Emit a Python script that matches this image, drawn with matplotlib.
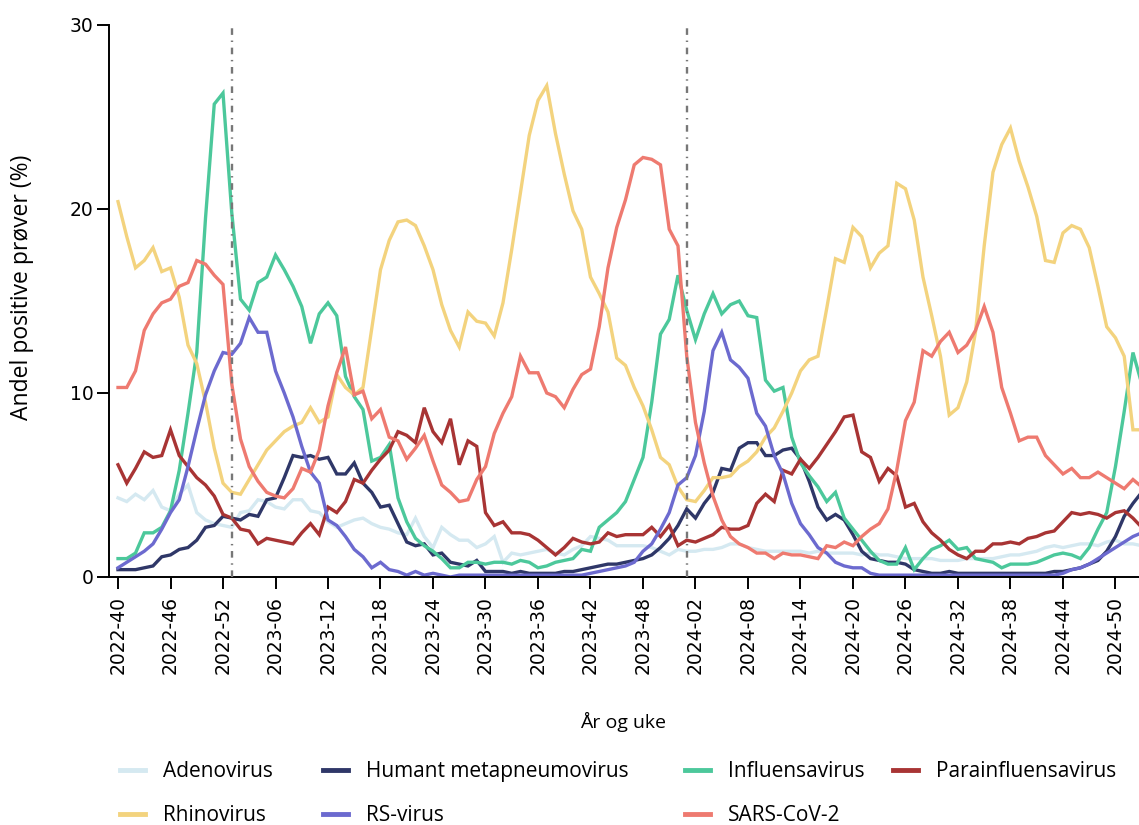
import matplotlib
matplotlib.use('Agg')
import matplotlib.pyplot as plt
import numpy as np

# Uke 2022-40 .. 2025-01
years = [2022] * 13 + [2023] * 52 + [2024] * 52 + [2025]
weeks = list(range(40, 53)) + list(range(1, 53)) + list(range(1, 53)) + [1]
week_labels = [f'{y}-{w:02d}' for y, w in zip(years, weeks)]

adeno = [4.3, 4.1, 4.5, 4.2, 4.7, 3.8, 3.6, 4.5, 5.0, 3.5,
         3.1, 2.9, 2.8, 2.7, 3.5, 3.6, 4.2, 4.1, 3.8, 3.7,
         4.2, 4.2, 3.6, 3.5, 3.0, 2.7, 2.9, 3.1, 3.2, 2.9,
         2.7, 2.6, 2.4, 2.3, 3.2, 2.2, 1.6, 2.7, 2.3, 2.0,
         2.0, 1.6, 1.8, 2.2, 0.8, 1.3, 1.2, 1.3, 1.4, 1.5,
         1.3, 1.2, 1.5, 1.7, 2.2, 2.1, 2.0, 1.7, 1.7, 1.7,
         1.7, 1.6, 1.4, 1.2, 1.5, 1.4, 1.4, 1.5, 1.5, 1.6,
         1.8, 1.8, 1.6, 1.5, 1.4, 1.4, 1.4, 1.4, 1.4, 1.3,
         1.4, 1.3, 1.3, 1.3, 1.3, 1.2, 1.3, 1.2, 1.2, 1.1,
         1.0, 1.0, 1.0, 1.0, 0.9, 0.9, 0.9, 1.0, 1.0, 1.0,
         1.0, 1.1, 1.2, 1.2, 1.3, 1.4, 1.6, 1.7, 1.6, 1.7,
         1.8, 1.8, 1.7, 1.9, 2.0, 1.8, 1.8, 1.7]

hmpv = [0.4, 0.4, 0.4, 0.5, 0.6, 1.1, 1.2, 1.5, 1.6, 2.0,
        2.7, 2.8, 3.3, 3.2, 3.1, 3.4, 3.3, 4.2, 4.3, 5.4,
        6.6, 6.5, 6.6, 6.4, 6.5, 5.6, 5.6, 6.2, 5.1, 4.6,
        3.8, 3.9, 2.9, 1.9, 1.7, 1.8, 1.2, 1.3, 0.8, 0.7,
        0.6, 0.9, 0.3, 0.3, 0.3, 0.2, 0.3, 0.2, 0.2, 0.2,
        0.2, 0.3, 0.3, 0.4, 0.5, 0.6, 0.7, 0.7, 0.8, 0.9,
        1.0, 1.2, 1.6, 2.1, 2.8, 3.7, 3.2, 4.0, 4.6, 5.9,
        5.8, 7.0, 7.3, 7.3, 6.6, 6.6, 6.9, 7.0, 6.4, 5.2,
        3.8, 3.1, 3.4, 3.1, 2.3, 1.4, 1.0, 0.9, 0.8, 0.8,
        0.7, 0.4, 0.3, 0.2, 0.2, 0.3, 0.2, 0.2, 0.2, 0.2,
        0.2, 0.2, 0.2, 0.2, 0.2, 0.2, 0.2, 0.3, 0.3, 0.4,
        0.5, 0.7, 0.9, 1.4, 2.2, 3.3, 4.0, 4.6]

influenza = [1.0, 1.0, 1.3, 2.4, 2.4, 2.7, 3.6, 5.8, 8.9, 12.2,
             19.5, 25.7, 26.3, 19.8, 15.1, 14.5, 16.0, 16.3, 17.5, 16.7,
             15.8, 14.7, 12.7, 14.3, 14.9, 14.2, 10.9, 9.8, 9.1, 6.3,
             6.5, 7.2, 4.3, 3.0, 2.1, 1.7, 1.4, 1.0, 0.5, 0.5,
             0.8, 0.8, 0.7, 0.8, 0.8, 0.7, 0.9, 0.8, 0.5, 0.6,
             0.8, 0.9, 1.0, 1.5, 1.4, 2.7, 3.1, 3.5, 4.1, 5.3,
             6.5, 9.5, 13.2, 14.0, 16.4, 14.5, 12.9, 14.3, 15.4, 14.3,
             14.8, 15.0, 14.2, 14.1, 10.7, 10.1, 10.3, 7.6, 6.2, 5.5,
             4.9, 4.1, 4.6, 3.2, 2.6, 2.0, 1.4, 0.9, 0.7, 0.7,
             1.6, 0.4, 1.0, 1.5, 1.7, 2.0, 1.5, 1.6, 1.0, 0.9,
             0.8, 0.5, 0.7, 0.7, 0.7, 0.8, 1.0, 1.2, 1.3, 1.2,
             1.0, 1.6, 2.6, 3.5, 6.0, 9.0, 12.2, 10.5]

para = [6.1, 5.1, 5.9, 6.8, 6.5, 6.6, 8.0, 6.6, 6.0, 5.4,
        5.0, 4.4, 3.4, 3.2, 2.6, 2.5, 1.8, 2.1, 2.0, 1.9,
        1.8, 2.4, 2.9, 2.3, 3.8, 3.5, 4.1, 5.3, 5.1, 5.8,
        6.4, 6.9, 7.9, 7.7, 7.3, 9.2, 7.9, 7.3, 8.6, 6.1,
        7.4, 7.1, 3.5, 2.8, 3.0, 2.4, 2.4, 2.3, 2.0, 1.6,
        1.2, 1.6, 2.1, 1.9, 1.8, 1.9, 2.4, 2.2, 2.3, 2.3,
        2.3, 2.7, 2.2, 2.8, 1.7, 2.0, 1.9, 2.1, 2.3, 2.7,
        2.6, 2.6, 2.8, 4.0, 4.5, 4.1, 5.8, 5.6, 6.4, 5.9,
        6.5, 7.2, 7.9, 8.7, 8.8, 6.8, 6.5, 5.2, 5.9, 5.5,
        3.8, 4.0, 3.0, 2.4, 2.0, 1.5, 1.2, 1.0, 1.4, 1.4,
        1.8, 1.8, 1.9, 1.8, 2.1, 2.2, 2.4, 2.5, 3.0, 3.5,
        3.4, 3.5, 3.4, 3.2, 3.5, 3.6, 3.2, 2.7]

rhino = [20.4, 18.5, 16.8, 17.2, 17.9, 16.6, 16.8, 15.2, 12.6, 11.6,
         9.5, 7.0, 5.1, 4.6, 4.5, 5.3, 6.1, 6.9, 7.4, 7.9,
         8.2, 8.4, 9.2, 8.4, 8.7, 11.0, 10.3, 9.9, 10.3, 13.5,
         16.7, 18.3, 19.3, 19.4, 19.1, 18.0, 16.7, 14.8, 13.4, 12.5,
         14.4, 13.9, 13.8, 13.1, 14.9, 17.8, 20.9, 24.0, 25.9, 26.7,
         24.1, 21.9, 19.9, 18.9, 16.3, 15.4, 14.4, 11.9, 11.5, 10.3,
         9.3, 8.0, 6.5, 6.1, 4.9, 4.2, 4.1, 4.7, 5.4, 5.4,
         5.5, 6.0, 6.3, 6.8, 7.6, 8.1, 9.0, 10.0, 11.2, 11.8,
         12.0, 14.6, 17.3, 17.1, 19.0, 18.5, 16.8, 17.6, 18.0, 21.4,
         21.1, 19.4, 16.3, 14.2, 12.0, 8.8, 9.2, 10.6, 13.3, 18.0,
         22.0, 23.5, 24.4, 22.6, 21.2, 19.6, 17.2, 17.1, 18.7, 19.1,
         18.9, 17.9, 15.8, 13.6, 13.0, 12.0, 8.0, 8.0]

rsv = [0.5, 0.8, 1.1, 1.4, 1.8, 2.6, 3.5, 4.2, 6.0, 8.0,
       9.9, 11.2, 12.2, 12.1, 12.7, 14.1, 13.3, 13.3, 11.2, 10.0,
       8.7, 7.1, 5.7, 5.1, 3.1, 2.8, 2.2, 1.5, 1.1, 0.5,
       0.8, 0.4, 0.3, 0.1, 0.3, 0.1, 0.2, 0.1, 0.0, 0.1,
       0.1, 0.1, 0.1, 0.1, 0.1, 0.1, 0.1, 0.1, 0.1, 0.1,
       0.1, 0.1, 0.1, 0.1, 0.2, 0.3, 0.4, 0.5, 0.6, 0.8,
       1.4, 1.8, 2.6, 3.5, 5.0, 5.4, 6.6, 9.0, 12.3, 13.3,
       11.8, 11.4, 10.8, 8.9, 8.2, 6.6, 5.6, 4.0, 2.9, 2.3,
       1.6, 1.3, 0.8, 0.6, 0.5, 0.5, 0.2, 0.1, 0.1, 0.1,
       0.1, 0.1, 0.1, 0.1, 0.1, 0.1, 0.1, 0.1, 0.1, 0.1,
       0.1, 0.1, 0.1, 0.1, 0.1, 0.1, 0.1, 0.1, 0.2, 0.4,
       0.5, 0.7, 1.0, 1.3, 1.6, 1.9, 2.2, 2.4]

sars = [10.3, 10.3, 11.2, 13.4, 14.3, 14.9, 15.1, 15.8, 16.0, 17.2,
        17.0, 16.4, 15.9, 10.5, 7.5, 6.0, 5.2, 4.6, 4.4, 4.3,
        4.8, 5.9, 5.7, 6.9, 9.3, 11.1, 12.5, 9.9, 10.1, 8.6,
        9.1, 7.6, 7.4, 6.4, 7.0, 7.7, 6.3, 5.0, 4.6, 4.1,
        4.2, 5.3, 6.0, 7.8, 8.9, 9.8, 12.0, 11.1, 11.1, 10.0,
        9.8, 9.2, 10.2, 11.0, 11.3, 13.6, 16.8, 19.0, 20.5, 22.4,
        22.8, 22.7, 22.4, 18.9, 18.0, 12.0, 8.4, 6.2, 4.4, 3.1,
        2.2, 1.8, 1.6, 1.3, 1.3, 1.0, 1.3, 1.2, 1.2, 1.1,
        1.0, 1.7, 1.6, 1.9, 1.7, 2.2, 2.6, 2.9, 3.7, 5.8,
        8.5, 9.5, 12.3, 12.0, 12.8, 13.3, 12.2, 12.6, 13.4, 14.7,
        13.3, 10.3, 8.9, 7.4, 7.6, 7.6, 6.6, 6.1, 5.6, 5.9,
        5.4, 5.4, 5.7, 5.4, 5.1, 4.8, 5.3, 4.9]

series = [
    ('Adenovirus', adeno, '#d5e9f1'),
    ('Humant metapneumovirus', hmpv, '#2f3768'),
    ('Influensavirus', influenza, '#4cc89b'),
    ('Parainfluensavirus', para, '#a83434'),
    ('Rhinovirus', rhino, '#f3d37e'),
    ('RS-virus', rsv, '#6c6acf'),
    ('SARS-CoV-2', sars, '#ee7a70'),
]

W, H = 1139, 825
fig = plt.figure(figsize=(W / 100, H / 100), dpi=100)
ax = fig.add_axes([109 / W, 1 - 577 / H, (W - 109) / W, (577 - 25) / H])

x = np.arange(len(week_labels))
lines = {}
for name, vals, col in series:
    ln, = ax.plot(x, vals, color=col, lw=2.4, solid_joinstyle='miter', label=name)
    lines[name] = ln

# årsskifte
for xv in [week_labels.index('2023-01'), week_labels.index('2024-01')]:
    ax.axvline(xv, ymin=0, ymax=1, color='#777777', lw=1.7,
               ls=(0, (2.8, 2.4, 0.6, 2.4)), zorder=5)

ax.set_xlim(-1.03, 116.69)
ax.set_ylim(0, 30)
ax.set_yticks([0, 10, 20, 30])
ax.set_xticks(x[::6])
ax.set_xticklabels(week_labels[::6], rotation=90, fontsize=13.5, family='DejaVu Sans')
ax.tick_params(axis='x', length=8.5, width=1.4, pad=5)
ax.tick_params(axis='y', length=9, width=1.4, pad=2, labelsize=13.5)
for s in ['top', 'right']:
    ax.spines[s].set_visible(False)
for s in ['left', 'bottom']:
    ax.spines[s].set_linewidth(1.4)

fig.text(22 / W, 1 - 287 / H, 'Andel positive prøver (%)', rotation=90,
         ha='center', va='center', fontsize=16.5, family='Open Sans')
fig.text(623 / W, 1 - 722 / H, 'År og uke', ha='center', va='center',
         fontsize=14, family='Open Sans')

# legend: én kolonne om gangen
columns = [
    (120, ['Adenovirus', 'Rhinovirus']),
    (323, ['Humant metapneumovirus', 'RS-virus']),
    (685, ['Influensavirus', 'SARS-CoV-2']),
    (893, ['Parainfluensavirus']),
]
for x0, names in columns:
    leg = fig.legend([lines[n] for n in names], names, loc='upper left',
                     bbox_to_anchor=(x0 / W, 1 - 761 / H), frameon=False,
                     prop={'family': 'Open Sans', 'size': 15}, handlelength=1.2,
                     handletextpad=0.85, borderpad=0, borderaxespad=0,
                     labelspacing=1.1)
    for lh in leg.get_lines():
        lh.set_linewidth(3.5)

fig.savefig('out.png', dpi=100)
